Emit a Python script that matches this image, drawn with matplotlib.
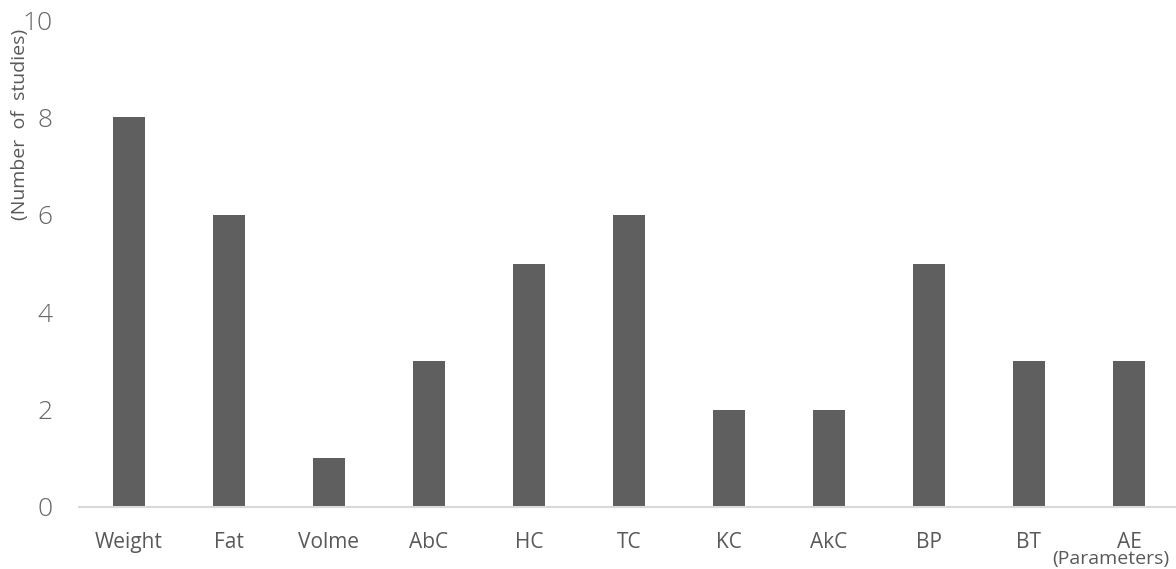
import matplotlib
matplotlib.use("Agg")
import matplotlib.pyplot as plt

# data
categories = ["Weight", "Fat", "Volme", "AbC", "HC", "TC", "KC", "AkC", "BP", "BT", "AE"]
studies = [8, 6, 1, 3, 5, 6, 2, 2, 5, 3, 3]
y_ticks = [0, 2, 4, 6, 8, 10]

plt.rcParams['font.family'] = ['Open Sans', 'DejaVu Sans']
text_color = "#595959"

fig = plt.figure(figsize=(11.76, 5.69), dpi=100)
ax = fig.add_axes([79 / 1176, 62 / 569, 1 - 79 / 1176, 487 / 569])

x = list(range(len(categories)))
ax.bar(x, studies, width=0.32, color="#5f5f5f", zorder=3)

ax.set_xlim(-0.5, 10.47)
ax.set_ylim(0, 10)
ax.set_xticks(x)
ax.set_xticklabels(categories, fontsize=15, color=text_color)
ax.set_yticks(y_ticks)
ax.set_yticklabels([str(t) for t in y_ticks], fontsize=19, color="#666666",
                   fontweight="light")
ax.tick_params(axis="x", length=0, pad=18)
ax.tick_params(axis="y", length=0, pad=19)

for side in ["top", "right", "left"]:
    ax.spines[side].set_visible(False)
ax.spines["bottom"].set_color("#d9d9d9")
ax.spines["bottom"].set_linewidth(1.5)
ax.spines["bottom"].set_zorder(4)

fig.text(20 / 1176, 1 - 124 / 569, "(Number  of  studies)", rotation=90,
         ha="center", va="center", fontsize=14, color=text_color)
# sits just under the last tick label, as in the reference
fig.text(1111 / 1176, 1 - 559 / 569, "(Parameters)",
         ha="center", va="center", fontsize=14, color=text_color)

fig.savefig("out.png", dpi=100)
